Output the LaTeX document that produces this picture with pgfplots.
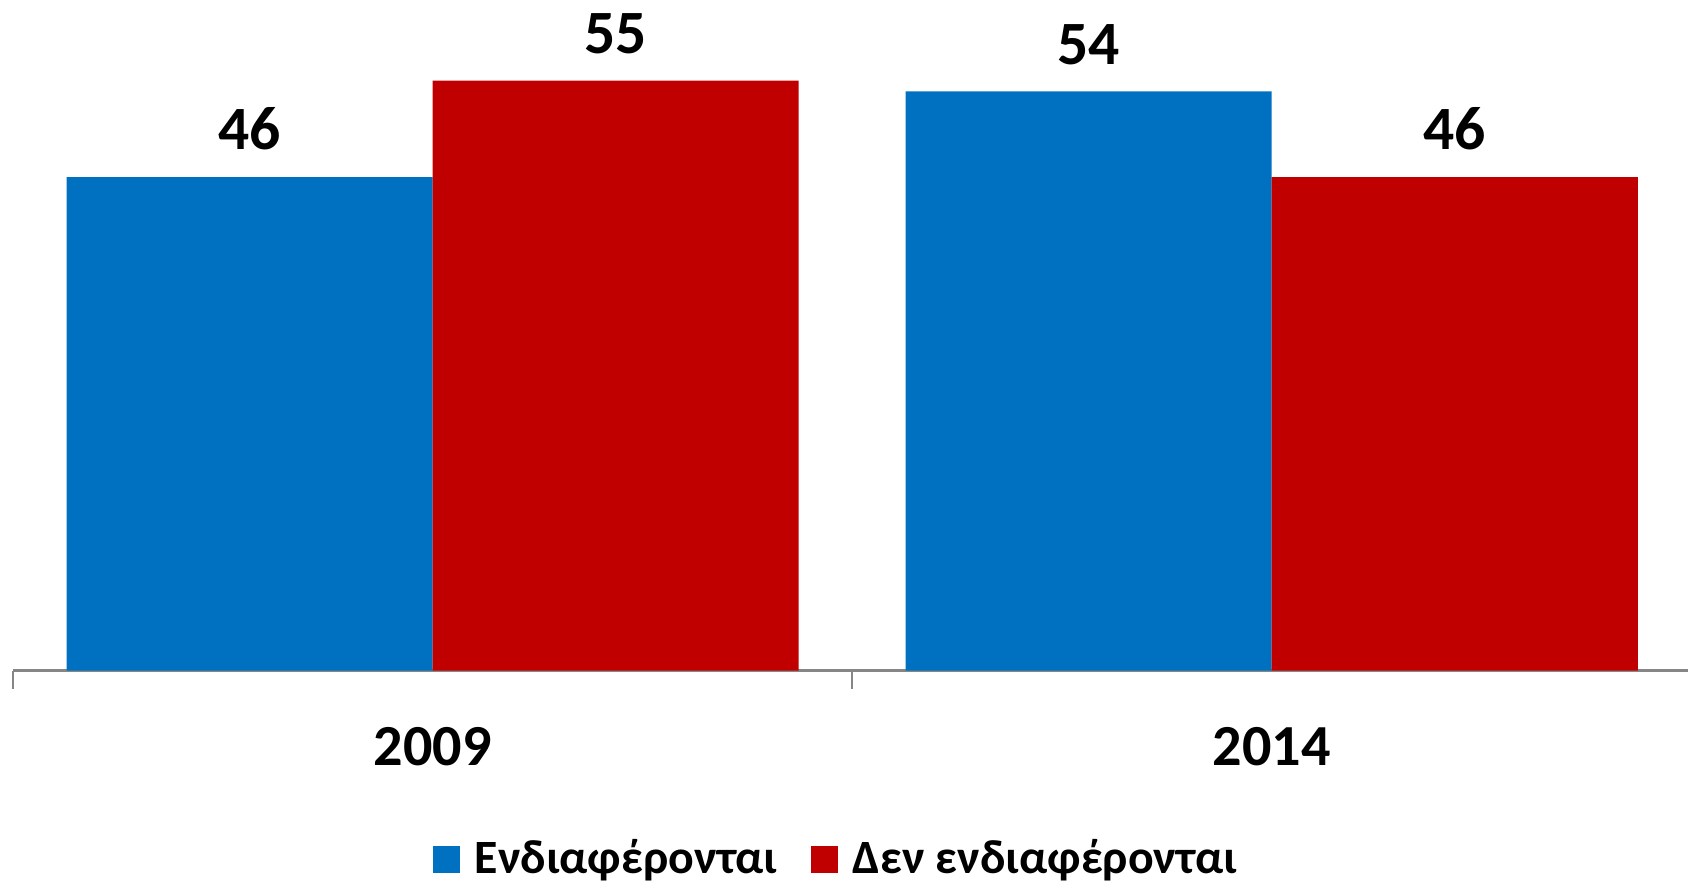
\documentclass[border=0pt]{standalone}
\usepackage{pgfplots}
\pgfplotsset{compat=1.18}
\usepackage{fontspec}
\setmainfont{Carlito}
\definecolor{cblue}{HTML}{0070C0}
\definecolor{cred}{HTML}{C00000}
\definecolor{axgray}{HTML}{868686}

\begin{document}
\begin{tikzpicture}
\begin{axis}[
    scale only axis,
    width=389pt, height=149.5pt,
    xmin=-0.5, xmax=1.496,
    ymin=0, ymax=60,
    ybar=0pt,
    bar width=85pt,
    /pgf/number format/assume math mode=true,
    axis x line*=bottom,
    axis y line=none,
    x axis line style={-, draw=axgray, line width=0.6pt},
    xtick={-0.5,0.5},
    xticklabels={},
    xtick align=outside,
    major tick length=4.25pt,
    xtick style={draw=axgray, line width=0.6pt},
    extra x ticks={0,1},
    extra x tick labels={2009,2014},
    extra x tick style={major tick length=0pt,
        tick label style={font=\fontsize{13.5}{13.5}\selectfont\bfseries,
            inner sep=0pt, anchor=north, yshift=-13pt}},
    nodes near coords,
    every node near coord/.append style={font=\fontsize{14.3}{14.3}\selectfont\bfseries,
        inner sep=0pt, yshift=6pt, text=black},
    legend style={at={(0.4907,-0.2935)}, anchor=center, draw=none,
        legend columns=2, font=\fontsize{11.1}{11.1}\selectfont\bfseries,
        inner sep=0pt, nodes={inner sep=0pt},
        /tikz/every odd column/.append style={column sep=3.5pt},
        /tikz/every even column/.append style={column sep=7.8pt}},
    legend image code/.code={\fill[#1] (0pt,-3.125pt) rectangle (6.25pt,3.125pt);},
]
\addplot[fill=cblue, draw=none] coordinates {(0,46) (1,54)};
\addplot[fill=cred, draw=none] coordinates {(0,55) (1,46)};
\legend{Ενδιαφέρονται, Δεν ενδιαφέρονται}
\coordinate (O) at (axis cs:-0.5,0);
\end{axis}
\pgfresetboundingbox
\path ([shift={(-3pt,-49.25pt)}]O) rectangle ([shift={(389pt,155.75pt)}]O);
\end{tikzpicture}
\end{document}
